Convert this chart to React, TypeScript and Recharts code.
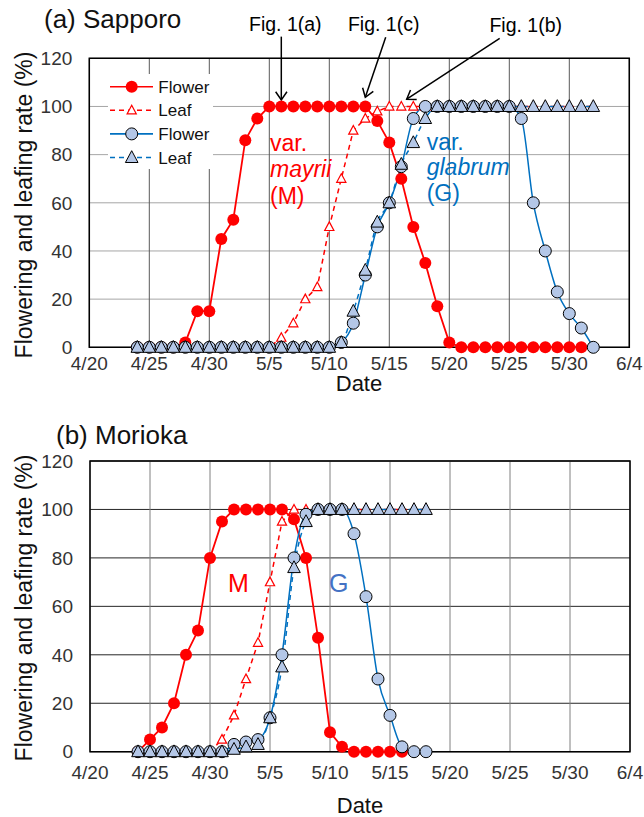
import React from 'react';
import { LineChart, Line, XAxis, YAxis, CartesianGrid, ReferenceArea, ReferenceLine } from 'recharts';

const FONT = '"Liberation Sans", Arial, sans-serif';

// x axis = days counted from 4/20
const dateTicks = [0, 5, 10, 15, 20, 25, 30, 35, 40, 45];
const dateLabels = ['4/20', '4/25', '4/30', '5/5', '5/10', '5/15', '5/20', '5/25', '5/30', '6/4'];
const rateTicks = [0, 20, 40, 60, 80, 100, 120];

// (a) Sapporo, first survey day 4/24
const sapporoStart = 4;
const sapporoMayriiFlower = [0, 0, 0, 0, 2, 15, 15, 45, 53, 86, 95, 100, 100, 100, 100, 100, 100, 100, 100, 100, 94, 85, 70, 50, 35, 17, 2, 0, 0, 0, 0, 0, 0, 0, 0, 0, 0, 0];
const sapporoMayriiLeaf = [0, 0, 0, 0, 0, 0, 0, 0, 0, 0, 0, 0, 4, 10, 20, 25, 50, 70, 90, 95, 98, 100, 100, 100, 100, 100, 100, 100, 100, 100, 100, 100, 100, 100, 100, 100, 100, 100, 100];
const sapporoGlabrumFlower = [0, 0, 0, 0, 0, 0, 0, 0, 0, 0, 0, 0, 0, 0, 0, 0, 0, 2, 10, 30, 50, 60, 75, 95, 100, 100, 100, 100, 100, 100, 100, 100, 95, 60, 40, 23, 14, 8, 0];
const sapporoGlabrumLeaf = [0, 0, 0, 0, 0, 0, 0, 0, 0, 0, 0, 0, 0, 0, 0, 0, 0, 2, 15, 32, 52, 60, 76, 85, 95, 100, 100, 100, 100, 100, 100, 100, 100, 100, 100, 100, 100, 100, 100];

// (b) Morioka, first survey day 4/24
const moriokaStart = 4;
const moriokaMayriiFlower = [0, 5, 10, 20, 40, 50, 80, 95, 100, 100, 100, 100, 100, 96, 80, 47, 8, 2, 0, 0, 0, 0, 0];
const moriokaMayriiLeaf = [0, 0, 0, 0, 0, 0, 0, 5, 15, 30, 45, 70, 95, 100, 100, 100, 100, 100, 100, 100, 100, 100, 100, 100, 100];
const moriokaGlabrumFlower = [0, 0, 0, 0, 0, 0, 0, 0, 3, 4, 5, 14, 40, 80, 98, 100, 100, 100, 90, 64, 30, 15, 2, 0, 0];
const moriokaGlabrumLeaf = [0, 0, 0, 0, 0, 0, 0, 0, 1, 2, 3, 14, 35, 76, 95, 100, 100, 100, 100, 100, 100, 100, 100, 100, 100];

// arrows to the photos of Fig. 1 (day, rate)
const figRefs = [
  { label: 'Fig. 1(a)', from: [16, 129], to: [16, 102.7], dx: 4 },
  { label: 'Fig. 1(c)', from: [24.7, 128.7], to: [23, 103.8], dx: -2 },
  { label: 'Fig. 1(b)', from: [34.2, 128.3], to: [26.45, 103], dx: 26 },
];

const RED = '#ff0000';
const BLUE = '#0070c0';
const LIGHT = '#b4c7e7';

const toPoints = (values: number[], start: number) => values.map((v, i) => ({ day: start + i, v }));

function marker(kind: string, cx: number, cy: number, key?: string) {
  if (kind === 'redDot') return <circle key={key} cx={cx} cy={cy} r={6} fill={RED} />;
  if (kind === 'blueDot')
    return <circle key={key} cx={cx} cy={cy} r={6} fill={LIGHT} stroke="#000" strokeWidth={1} />;
  if (kind === 'redTri')
    return (
      <polygon key={key} points={`${cx},${cy - 5} ${cx - 4.6},${cy + 3.6} ${cx + 4.6},${cy + 3.6}`}
        fill="#fff" stroke={RED} strokeWidth={1.2} />
    );
  return (
    <polygon key={key} points={`${cx},${cy - 6.8} ${cx - 6.3},${cy + 5} ${cx + 6.3},${cy + 5}`}
      fill={LIGHT} stroke="#000" strokeWidth={1} />
  );
}

const dotFor = (kind: string, id: string) => (p: any) =>
  p.cx == null || p.cy == null ? <g key={`${id}-${p.index}`} /> : marker(kind, p.cx, p.cy, `${id}-${p.index}`);

const seriesStyles = [
  { id: 'mf', kind: 'redDot', stroke: RED, width: 1.8, dash: undefined, type: 'linear' },
  { id: 'ml', kind: 'redTri', stroke: RED, width: 1.5, dash: '5 4', type: 'linear' },
  { id: 'gf', kind: 'blueDot', stroke: BLUE, width: 1.5, dash: undefined, type: 'monotone' },
  { id: 'gl', kind: 'blueTri', stroke: BLUE, width: 1.5, dash: '5 4', type: 'monotone' },
];

function Arrow(props: any) {
  const { x1, y1, x2, y2, label, dx } = props;
  const a = Math.atan2(y2 - y1, x2 - x1);
  const len = 10;
  const h1x = x2 - len * Math.cos(a - 0.6);
  const h1y = y2 - len * Math.sin(a - 0.6);
  const h2x = x2 - len * Math.cos(a + 0.6);
  const h2y = y2 - len * Math.sin(a + 0.6);
  return (
    <g>
      <line x1={x1} y1={y1} x2={x2} y2={y2} stroke="#000" strokeWidth={1.5} />
      <polyline points={`${h1x},${h1y} ${x2},${y2} ${h2x},${h2y}`} fill="none" stroke="#000" strokeWidth={1.5} />
      <text x={x1 + dx} y={y1 - 6} textAnchor="middle" fontSize={19.5} fontFamily={FONT} fill="#000">
        {label}
      </text>
    </g>
  );
}

interface ChartProps {
  series: number[][];
  start: number;
  height: number;
  margin: { top: number; right: number; left: number; bottom: number };
  hGrid: string;
  vGrid: string;
  tickGap: number;
  refs?: typeof figRefs;
}

function RateChart({ series, start, height, margin, hGrid, vGrid, tickGap, refs = [] }: ChartProps) {
  return (
    <LineChart width={644} height={height} margin={margin}>
      <CartesianGrid vertical={false} stroke={hGrid} />
      <CartesianGrid horizontal={false} stroke={vGrid} />
      <XAxis
        type="number"
        dataKey="day"
        domain={[0, 45]}
        ticks={dateTicks}
        interval={0}
        tickFormatter={(d: number) => dateLabels[dateTicks.indexOf(d)]}
        tickLine={false}
        axisLine={false}
        tickSize={0}
        tickMargin={tickGap}
        height={30}
        tick={{ fontSize: 19, fill: '#333', fontFamily: FONT }}
      />
      <YAxis
        type="number"
        domain={[0, 120]}
        ticks={rateTicks}
        interval={0}
        tickLine={false}
        axisLine={false}
        tickSize={0}
        tickMargin={17}
        width={50}
        tick={{ fontSize: 19, fill: '#333', fontFamily: FONT }}
      />
      <ReferenceArea x1={0} x2={45} y1={0} y2={120} fill="none" stroke="#000" strokeWidth={1.5} ifOverflow="visible" />
      {series.map((vals, i) => {
        const s = seriesStyles[i];
        return (
          <Line
            key={s.id}
            data={toPoints(vals, start)}
            dataKey="v"
            type={s.type as any}
            stroke={s.stroke}
            strokeWidth={s.width}
            strokeDasharray={s.dash}
            dot={dotFor(s.kind, s.id)}
            activeDot={false}
            isAnimationActive={false}
          />
        );
      })}
      {refs.map((r) => (
        <ReferenceLine
          key={r.label}
          segment={[{ x: r.from[0], y: r.from[1] }, { x: r.to[0], y: r.to[1] }]}
          ifOverflow="visible"
          shape={(p: any) => <Arrow {...p} label={r.label} dx={r.dx} />}
        />
      ))}
    </LineChart>
  );
}

const legendRows = [
  { label: 'Flower', kind: 'redDot', stroke: RED, dash: undefined },
  { label: 'Leaf', kind: 'redTri', stroke: RED, dash: '5 4' },
  { label: 'Flower', kind: 'blueDot', stroke: BLUE, dash: undefined },
  { label: 'Leaf', kind: 'blueTri', stroke: BLUE, dash: '5 4' },
];

export default function App() {
  const txt = { fontFamily: FONT };
  return (
    <div style={{ position: 'absolute', left: 0, top: 0, width: 644, height: 817, background: '#fff' }}>
      <div style={{ position: 'absolute', left: 0, top: 0 }}>
        <RateChart
          series={[sapporoMayriiFlower, sapporoMayriiLeaf, sapporoGlabrumFlower, sapporoGlabrumLeaf]}
          start={sapporoStart}
          height={400}
          margin={{ top: 58.3, right: 14.7, left: 39.3, bottom: 22.7 }}
          hGrid="#a6a6a6"
          vGrid="#595959"
          tickGap={9}
          refs={figRefs}
        />
      </div>
      <div style={{ position: 'absolute', left: 0, top: 400 }}>
        <RateChart
          series={[moriokaMayriiFlower, moriokaMayriiLeaf, moriokaGlabrumFlower, moriokaGlabrumLeaf]}
          start={moriokaStart}
          height={417}
          margin={{ top: 61, right: 14, left: 40, bottom: 35.3 }}
          hGrid="#262626"
          vGrid="#808080"
          tickGap={14}
        />
      </div>
      <svg width={644} height={817} style={{ position: 'absolute', left: 0, top: 0, pointerEvents: 'none' }}>
        <g style={txt}>
          <text x={44} y={28} fontSize={26} fill="#111">(a) Sapporo</text>
          <text x={56} y={444} fontSize={26} fill="#111">(b) Morioka</text>
          <text transform="translate(31.5,205) rotate(-90)" textAnchor="middle" fontSize={23} fill="#111">
            Flowering and leafing rate (%)
          </text>
          <text transform="translate(32,608) rotate(-90)" textAnchor="middle" fontSize={23} fill="#111">
            Flowering and leafing rate (%)
          </text>
          <text x={359} y={391} textAnchor="middle" fontSize={22} fill="#111">Date</text>
          <text x={360} y={813} textAnchor="middle" fontSize={22} fill="#111">Date</text>

          <text x={270} y={151} fontSize={23} fill={RED}>var.</text>
          <text x={270} y={177} fontSize={23} fill={RED} fontStyle="italic">mayrii</text>
          <text x={270} y={204} fontSize={23} fill={RED}>(M)</text>
          <text x={426.7} y={150} fontSize={23} fill={BLUE}>var.</text>
          <text x={426.7} y={175} fontSize={23} fill={BLUE} fontStyle="italic">glabrum</text>
          <text x={426.7} y={201} fontSize={23} fill={BLUE}>(G)</text>

          <text x={228} y={592} fontSize={25} fill={RED}>M</text>
          <text x={329} y={592} fontSize={25} fill="#4472c4">G</text>

          <rect x={108} y={74} width={105} height={95} fill="#fff" />
          {legendRows.map((r, i) => {
            const y = 86.7 + i * 23.6;
            return (
              <g key={i}>
                <line x1={110} y1={y} x2={153} y2={y} stroke={r.stroke} strokeWidth={1.6} strokeDasharray={r.dash} />
                {marker(r.kind, 131.7, y)}
                <text x={158.3} y={y + 6} fontSize={17} fill="#111">{r.label}</text>
              </g>
            );
          })}
        </g>
      </svg>
    </div>
  );
}
